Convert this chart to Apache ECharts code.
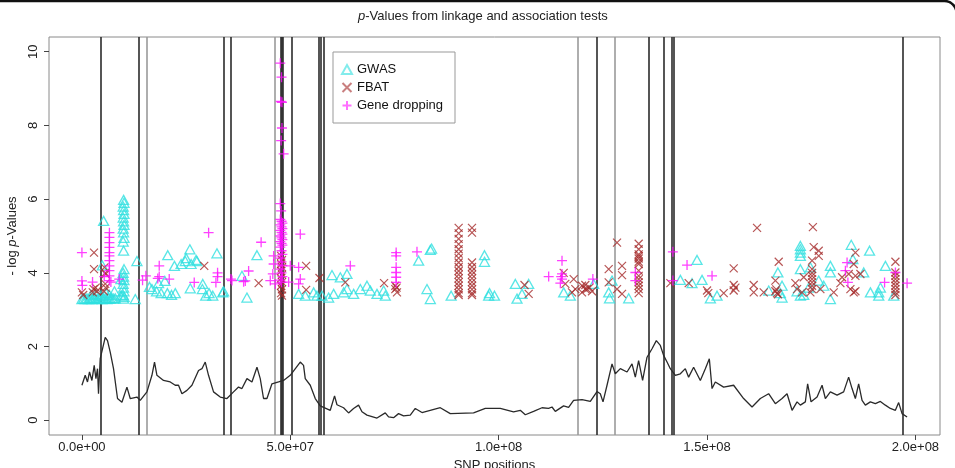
<!DOCTYPE html>
<html>
<head>
<meta charset="utf-8">
<script src="https://cdn.jsdelivr.net/npm/echarts@6/dist/echarts.min.js"></script>
<style>
  html, body { margin: 0; padding: 0; background: #fff; }
  #main { width: 955px; height: 468px; }
</style>
</head>
<body>
<div id="main"></div>
<script>
// positions are in Mb, labels are printed as R-style sci notation
var xTicks = [0, 50, 100, 150, 200];
var yTicks = [0, 2, 4, 6, 8, 10];

// linkage curve
var linkPos = [0.0, 0.79, 1.34, 1.82, 2.4, 2.95, 3.36, 3.74, 3.98, 4.39, 5.59, 6.14, 6.79, 7.58, 8.54, 9.6, 10.8, 11.59, 13.2, 13.99,
  15.6, 16.8, 17.42, 18.0, 19.58, 21.19, 22.39, 23.18, 24.0, 25.2, 26.4, 27.98, 28.8, 29.59, 30.38, 31.58, 33.19, 34.8, 36.38, 37.58,
  38.4, 39.6, 40.8, 42.0, 42.79, 43.58, 44.4, 45.6, 47.18, 48.38, 49.99, 52.39, 53.18, 53.59, 54.79, 55.99, 57.19, 59.59, 60.62, 61.2,
  62.78, 63.98, 65.18, 66.38, 67.2, 68.4, 70.8, 72.79, 73.58, 74.78, 75.98, 77.18, 78.79, 79.99, 81.6, 85.99, 88.39, 93.98, 96.79, 100.39,
  103.58, 105.19, 106.39, 108.38, 110.4, 111.98, 112.8, 113.59, 115.58, 116.78, 117.98, 120.0, 121.99, 123.6, 124.39, 125.04, 126.0, 127.2, 127.99, 129.19,
  130.8, 132.0, 132.79, 133.58, 134.54, 135.6, 136.8, 137.83, 138.79, 139.58, 140.4, 141.19, 142.39, 143.59, 144.79, 145.58, 146.78, 148.39, 149.59, 150.55,
  151.2, 151.99, 153.98, 156.38, 158.78, 160.8, 162.79, 164.78, 166.39, 168.0, 169.2, 170.4, 171.6, 172.39, 173.59, 174.14, 174.96, 176.4, 177.6, 178.39,
  179.59, 181.2, 182.78, 183.98, 184.8, 185.59, 186.38, 187.2, 187.99, 189.19, 190.39, 191.59, 192.79, 193.99, 195.19, 195.98, 196.8, 198.0];
var linkVal = [0.95, 1.22, 1.04, 1.31, 1.08, 1.49, 1.13, 1.40, 0.72, 1.67, 2.25, 2.16, 1.85, 1.40, 0.59, 0.49, 0.90, 0.59, 0.63, 0.54,
  0.77, 1.22, 1.58, 1.22, 1.08, 1.04, 0.95, 0.95, 0.72, 0.81, 0.95, 1.35, 1.40, 1.58, 1.22, 0.77, 0.63, 0.59, 0.77, 0.90,
  0.86, 1.13, 1.04, 1.44, 1.13, 0.59, 0.59, 0.99, 1.04, 1.08, 1.22, 1.58, 1.49, 1.13, 0.95, 0.59, 0.39, 0.27, 0.66, 0.42,
  0.34, 0.20, 0.32, 0.41, 0.23, 0.14, 0.06, 0.20, 0.09, 0.07, 0.18, 0.12, 0.14, 0.32, 0.21, 0.34, 0.18, 0.20, 0.32, 0.32,
  0.23, 0.27, 0.15, 0.24, 0.34, 0.32, 0.36, 0.24, 0.39, 0.35, 0.54, 0.56, 0.51, 0.78, 0.72, 0.50, 0.95, 1.53, 1.26, 1.40,
  1.31, 1.53, 1.17, 1.62, 1.08, 1.71, 1.94, 2.16, 2.03, 1.76, 1.58, 1.40, 1.22, 1.26, 1.40, 1.17, 1.44, 1.08, 1.40, 1.67,
  0.86, 1.04, 0.90, 0.95, 0.59, 0.36, 0.59, 0.72, 0.45, 0.59, 0.72, 0.27, 0.50, 0.41, 0.50, 0.99, 0.50, 0.63, 0.95, 0.59,
  0.77, 0.68, 0.77, 1.17, 0.86, 0.59, 0.99, 0.54, 0.41, 0.50, 0.45, 0.51, 0.41, 0.32, 0.27, 0.48, 0.18, 0.09];

// GWAS
var gwasPos = [0.0, 0.4, 0.8, 1.2, 1.6, 2.0, 2.4, 2.8, 3.2, 3.6, 4.0, 4.4, 4.8, 5.2, 5.6, 6.0, 6.4, 6.8, 7.2, 7.6, 8.0,
  2.2, 3.4, 4.6, 5.8, 6.6, 7.8, 4.9, 5.2,
  10.0, 10.1, 9.9, 10.0, 10.1, 9.9, 10.0, 10.1, 9.9, 10.0, 10.1, 9.9, 10.0, 10.1, 9.9, 10.0, 10.1, 9.9, 10.0, 10.1, 9.9, 10.0, 10.1,
  9.35, 9.35, 13.2, 12.8,
  16.8, 17.9, 19.0, 20.5, 21.5, 22.4, 18.4, 19.9, 16.2,
  20.6, 22.2, 23.8, 25.9, 25.0, 27.4, 26.2, 24.8, 27.6, 32.4, 26.0, 28.9, 29.7, 30.5, 31.4, 29.0, 33.8, 34.0, 39.6, 38.4, 42.0,
  52.0, 53.6, 55.6, 56.4, 57.6, 59.2, 60.4, 62.8, 63.6, 65.2, 66.8, 68.4, 69.2, 70.8, 72.4, 72.8, 60.0, 62.0, 63.6,
  83.6, 83.9, 80.8, 82.8, 83.6, 88.6, 96.6, 96.6, 97.6, 99.0, 97.8, 104.0, 104.4, 105.6, 107.2, 115.6, 117.2,
  122.8, 126.4, 126.6, 127.2, 131.2, 143.6, 146.4, 147.6, 148.8, 150.8, 152.4, 164.8,
  167.0, 168.0, 168.0, 167.6, 172.4, 172.4, 172.4, 172.4, 172.4, 172.4, 171.6, 174.8, 176.8, 178.0, 179.6, 179.6, 179.6,
  184.6, 185.0, 187.6, 189.0, 189.2, 191.2, 191.2, 191.6, 192.8, 194.8, 173.2, 174.4];
var gwasLogP = [3.29, 3.30, 3.29, 3.31, 3.29, 3.30, 3.29, 3.32, 3.30, 3.29, 3.31, 3.30, 3.29, 3.31, 3.30, 3.29, 3.31, 3.30, 3.32, 3.30, 3.31,
  3.40, 3.42, 3.38, 3.45, 3.40, 3.50, 4.20, 5.41,
  5.98, 5.90, 5.80, 5.70, 5.60, 5.50, 5.40, 5.30, 5.20, 5.10, 4.95, 4.85, 4.60, 4.10, 4.00, 3.90, 3.80, 3.70, 3.60, 3.50, 3.40, 3.30, 3.35,
  3.83, 3.38, 4.32, 3.29,
  3.56, 3.50, 3.45, 3.45, 3.40, 3.45, 3.72, 3.78, 3.62,
  4.48, 4.19, 4.24, 4.64, 4.40, 4.35, 4.24, 4.32, 4.32, 4.53, 3.58, 3.56, 3.38, 3.45, 3.38, 3.70, 3.47, 3.50, 3.33, 3.92, 4.48,
  3.43, 3.38, 3.47, 3.38, 3.38, 3.33, 3.43, 3.47, 3.56, 3.43, 3.56, 3.65, 3.52, 3.43, 3.52, 3.38, 3.94, 3.88, 3.97,
  4.62, 4.66, 4.33, 3.56, 3.29, 3.38, 4.48, 4.30, 3.38, 3.38, 3.45, 3.70, 3.30, 3.43, 3.70, 3.47, 3.38,
  3.70, 3.47, 3.31, 3.79, 3.31, 3.81, 3.72, 4.35, 3.81, 3.31, 3.38, 3.52,
  4.01, 3.65, 3.33, 3.45, 4.73, 4.64, 4.55, 4.46, 4.10, 3.38, 3.50, 4.15, 3.79, 3.65, 4.19, 4.01, 3.29,
  4.76, 4.37, 4.01, 4.60, 3.47, 3.47, 3.38, 3.60, 4.19, 3.38, 3.40, 3.60];

// FBAT
var fbatPos = [0.0, 0.3, 2.9, 2.9, 2.8, 2.6, 3.3, 3.6, 5.4, 5.7, 5.6, 5.7, 5.6, 5.3,
  29.35, 42.4,
  47.8, 48.0, 47.8, 48.0, 47.8, 48.0, 47.8, 48.0, 47.8, 48.0, 47.8, 48.0,
  53.8, 53.8, 57.0, 63.2, 72.5, 75.2, 75.6, 75.2, 75.5,
  90.4, 90.4, 90.4, 90.4, 90.4, 90.4, 90.4, 90.4, 90.4, 90.4, 90.4, 90.4, 90.4, 90.4, 90.4, 90.4, 90.4,
  93.6, 93.6, 93.6, 93.6, 93.6, 93.6, 93.6, 93.6, 93.6, 93.6, 93.6, 93.6,
  106.2, 107.2, 115.6, 116.0, 118.0, 118.4, 120.0, 120.0, 120.8, 117.6, 120.8, 121.2, 121.8, 122.4,
  128.4, 126.4, 129.6, 129.6, 126.4, 128.4, 129.6,
  133.6, 133.6, 133.6, 133.6, 133.6, 133.6, 133.6, 133.6, 133.6, 133.6, 133.6, 133.6, 133.6, 133.6,
  141.2, 145.6, 150.0, 150.3, 154.0, 156.4, 156.4, 156.4, 156.8, 161.2, 161.2, 162.0, 163.6,
  167.2, 166.4, 166.4, 166.8, 166.6, 167.0, 171.2, 171.6, 172.8, 173.2, 175.4, 175.6, 176.8, 176.8, 175.2,
  175.2, 175.2, 175.2, 175.2, 175.2, 175.2, 175.2,
  177.2, 174.8, 182.0, 180.4, 182.4, 184.0, 185.6, 185.2, 185.6, 186.8, 184.4, 185.2, 185.6,
  195.2, 195.2, 195.2, 195.2, 195.2, 195.2, 195.2, 195.2, 195.2];
var fbatLogP = [3.47, 3.40, 4.55, 4.10, 3.56, 3.47, 3.60, 3.50, 4.15, 3.97, 4.00, 3.60, 3.70, 3.50,
  4.19, 3.72,
  4.46, 4.35, 4.24, 4.15, 4.05, 3.95, 3.85, 3.75, 3.65, 3.55, 3.45, 3.38,
  4.19, 3.54, 3.86, 3.74, 3.72, 3.56, 3.47, 3.65, 3.60,
  5.22, 5.07, 4.92, 4.78, 4.64, 4.52, 4.40, 4.28, 4.16, 4.05, 3.95, 3.85, 3.75, 3.65, 3.55, 3.45, 3.40,
  5.22, 5.09, 4.28, 4.16, 4.05, 3.95, 3.85, 3.75, 3.65, 3.55, 3.45, 3.40,
  3.67, 3.43, 4.00, 3.70, 3.83, 3.56, 3.65, 3.47, 3.56, 3.47, 3.67, 3.56, 3.60, 3.50,
  4.82, 4.10, 4.19, 3.94, 3.74, 3.56, 3.43,
  4.79, 4.64, 4.50, 4.45, 4.39, 4.30, 4.24, 4.06, 3.92, 3.83, 3.74, 3.65, 3.56, 3.45,
  3.72, 3.72, 3.52, 3.45, 3.45, 4.12, 3.67, 3.52, 3.60, 3.67, 3.47, 5.22, 3.47,
  4.30, 3.79, 3.50, 3.45, 3.55, 3.42, 3.72, 3.56, 3.47, 3.88, 5.24, 4.70, 4.60, 4.46, 4.33,
  4.10, 4.00, 3.92, 3.83, 3.74, 3.65, 3.56,
  3.56, 3.47, 3.72, 3.47, 3.88, 3.97, 4.55, 4.24, 3.92, 3.97, 3.56, 3.47, 3.50,
  4.30, 4.01, 3.92, 3.83, 3.74, 3.65, 3.56, 3.47, 3.40];

// Gene dropping
var dropPos = [0.0, 0.0, 0.1, 2.55,
  6.6, 6.6, 6.6, 6.6, 6.6, 6.6, 6.6, 6.6, 6.6, 6.6, 6.6,
  5.35, 6.95, 8.95, 15.35, 14.55, 18.55, 18.55, 18.2, 20.95, 30.4, 32.55, 32.55, 32.15, 26.95, 35.75, 36.0, 39.2, 40.0, 38.8, 43.0,
  47.6, 47.9, 47.7, 48.0, 48.0, 47.8, 48.4, 47.6, 47.8,
  47.6, 47.9, 48.1, 47.6, 47.9, 48.1, 47.6, 47.9, 48.1, 47.6, 47.9, 48.1, 47.6, 47.9, 48.1, 47.6, 47.9, 48.1, 47.6, 47.9, 48.1,
  47.6, 47.9, 48.1, 47.6, 47.9,
  46.0, 46.0, 45.8, 45.2, 46.4, 50.0, 52.0, 52.4, 52.0, 49.6, 52.4,
  64.4, 75.4, 75.4, 75.4, 75.4, 75.4, 75.4,
  80.4, 115.2, 112.0, 115.2, 115.2, 114.8, 115.0,
  122.6, 132.8, 132.8, 141.8, 141.8, 145.2, 151.2,
  183.2, 183.6, 183.8, 192.6, 195.2, 198.0];
var dropLogP = [4.55, 3.78, 3.66, 3.75,
  5.09, 4.96, 4.82, 4.69, 4.55, 4.46, 4.33, 4.19, 4.06, 3.92, 3.79,
  3.90, 3.75, 3.83, 3.92, 3.80, 4.19, 3.90, 3.85, 3.83, 5.09, 4.00, 3.90, 3.74, 3.74, 3.83, 3.79, 3.78, 4.05, 3.76, 4.83,
  9.69, 9.31, 8.65, 8.63, 7.93, 7.59, 7.23, 5.88, 5.68,
  5.45, 5.40, 5.35, 5.30, 5.25, 5.20, 5.15, 5.10, 5.05, 5.00, 4.95, 4.90, 4.85, 4.80, 4.75, 4.70, 4.60, 4.50, 4.40, 4.30, 4.20,
  4.10, 4.00, 3.90, 3.80, 3.74,
  4.46, 4.24, 3.97, 3.79, 3.70, 4.19, 4.15, 3.83, 3.70, 3.75, 5.05,
  4.19, 4.55, 4.46, 4.15, 4.01, 3.88, 3.74,
  4.57, 4.33, 3.90, 3.97, 3.83, 3.72, 3.90,
  3.83, 4.01, 3.79, 4.57, 3.79, 4.21, 3.92,
  4.06, 4.28, 3.74, 3.74, 4.01, 3.72];

// vertical marker lines
var darkLines = [4.46, 13.58, 33.98, 35.76, 47.6, 47.95, 48.3, 50.4, 56.83, 57.2, 58.1, 123.43, 136.1, 139.68, 141.43, 142.03, 197.04];
var grayLines = [15.6, 46.15, 119.04, 127.75];

function zip(a, b) {
  var out = [];
  for (var i = 0; i < a.length; i++) out.push([a[i], b[i]]);
  return out;
}

function sci(v) {
  var n = v * 1e6;
  if (n === 0) return '0.0e+00';
  var e = Math.floor(Math.log10(n) + 1e-9);
  var m = n / Math.pow(10, e);
  return m.toFixed(1) + 'e+' + (e < 10 ? '0' + e : e);
}

var FONT = 'Liberation Sans';
var vlines = [];
darkLines.forEach(function (x) {
  vlines.push({ xAxis: x, lineStyle: { color: '#2b2b2b', width: 1.6, type: 'solid' } });
});
grayLines.forEach(function (x) {
  vlines.push({ xAxis: x, lineStyle: { color: '#9a9a9a', width: 1.6, type: 'solid' } });
});

var chart = echarts.init(document.getElementById('main'));
chart.setOption({
  animation: false,
  backgroundColor: '#fff',
  textStyle: { fontFamily: FONT },
  title: {
    text: '{i|p}-Values from linkage and association tests',
    left: 358,
    top: 10,
    padding: 0,
    textStyle: {
      fontSize: 13, fontWeight: 'normal', color: '#222', fontFamily: FONT,
      rich: { i: { fontStyle: 'italic', fontSize: 13, color: '#222', fontFamily: FONT } }
    }
  },
  legend: {
    data: ['GWAS', 'FBAT', 'Gene dropping'],
    orient: 'vertical',
    left: 333,
    top: 52,
    itemWidth: 10,
    itemHeight: 9,
    itemGap: 5,
    padding: [11, 12, 11, 8],
    backgroundColor: '#fff',
    borderColor: '#999',
    borderWidth: 1,
    borderRadius: 0,
    itemStyle: { opacity: 0.6 },
    textStyle: { fontSize: 13, color: '#111', fontFamily: FONT }
  },
  graphic: [{
    type: 'rect',
    silent: true,
    shape: { x: -30, y: 1, width: 986.5, height: 540, r: 12 },
    style: { fill: 'none', stroke: '#111', lineWidth: 2.5 }
  }],
  grid: {
    left: 49, top: 37, right: 15, bottom: 33,
    show: true, borderColor: '#8a8a8a', borderWidth: 1,
    containLabel: false, outerBoundsMode: 'none'
  },
  xAxis: {
    type: 'value',
    min: -7.9, max: 205.9,
    splitLine: { show: false },
    axisLine: { show: false, onZero: false },
    axisTick: { show: true, length: 5, customValues: xTicks, lineStyle: { color: '#444' } },
    axisLabel: { customValues: xTicks, formatter: sci, fontSize: 13, color: '#222', margin: 6, fontFamily: FONT },
    name: 'SNP positions',
    nameLocation: 'middle',
    nameGap: 22,
    nameTextStyle: { fontSize: 13, color: '#222', fontFamily: FONT }
  },
  yAxis: {
    type: 'value',
    min: -0.4, max: 10.4,
    splitLine: { show: false },
    axisLine: { show: false, onZero: false },
    axisTick: { show: true, length: 5, customValues: yTicks, lineStyle: { color: '#444' } },
    axisLabel: { customValues: yTicks, rotate: 90, fontSize: 13, color: '#222', margin: 9, fontFamily: FONT },
    name: '- log {i|p}-Values',
    nameLocation: 'middle',
    nameRotate: 90,
    nameGap: 28,
    nameTextStyle: {
      fontSize: 13, color: '#222', fontFamily: FONT,
      rich: { i: { fontStyle: 'italic', fontSize: 13, color: '#222', fontFamily: FONT } }
    }
  },
  series: [{
    name: 'linkage',
    type: 'line',
    data: zip(linkPos, linkVal),
    showSymbol: false,
    lineStyle: { color: '#2a2a2a', width: 1.3 },
    z: 2,
    markLine: {
      silent: true,
      symbol: 'none',
      label: { show: false },
      data: vlines,
      z: 1
    }
  }, {
    name: 'GWAS',
    type: 'scatter',
    data: zip(gwasPos, gwasLogP),
    symbol: 'triangle',
    symbolSize: [10, 9],
    itemStyle: { color: 'rgba(0,0,0,0)', borderColor: '#2fe0e0', borderWidth: 1.3 },
    z: 3
  }, {
    name: 'FBAT',
    type: 'scatter',
    data: zip(fbatPos, fbatLogP),
    symbol: 'path://M0,0L10,10M10,0L0,10',
    symbolSize: 8,
    itemStyle: { color: 'rgba(0,0,0,0)', borderColor: '#a52a2a', borderWidth: 1.2 },
    z: 4
  }, {
    name: 'Gene dropping',
    type: 'scatter',
    data: zip(dropPos, dropLogP),
    symbol: 'path://M5,0L5,10M0,5L10,5',
    symbolSize: 10,
    itemStyle: { color: 'rgba(0,0,0,0)', borderColor: '#ff10ff', borderWidth: 1.3 },
    z: 5
  }]
});
</script>
</body>
</html>
